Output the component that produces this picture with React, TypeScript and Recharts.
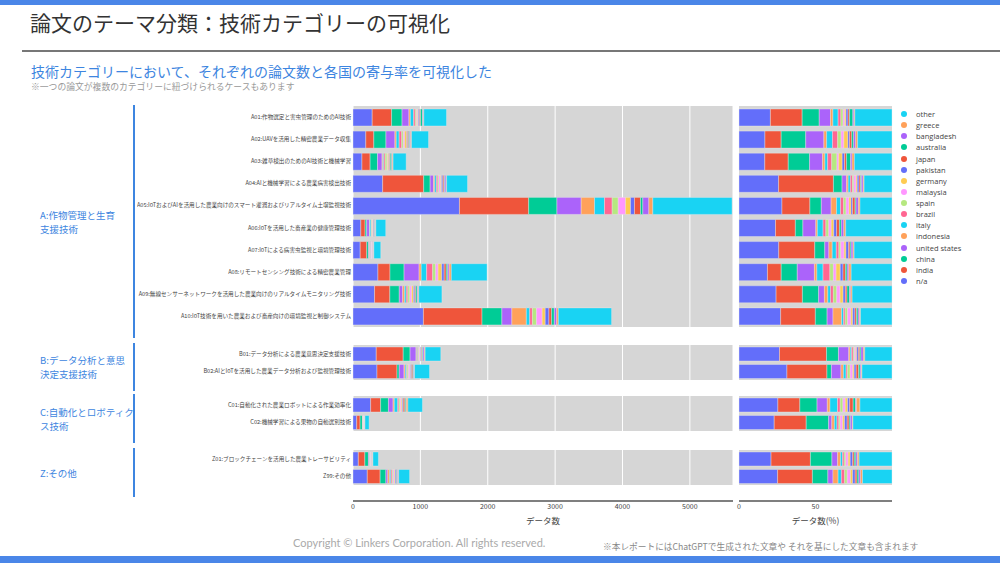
import React from 'react';
import { BarChart, Bar, XAxis, YAxis, CartesianGrid } from 'recharts';

const categories = [
  'A01:作物選定と害虫管理のためのAI技術',
  'A02:UAVを活用した精密農業データ収集',
  'A03:雑草検出のためのAI技術と機械学習',
  'A04:AIと機械学習による農業病害検出技術',
  'A05:IoTおよびAIを活用した農業向けのスマート灌漑およびリアルタイム土壌監視技術',
  'A06:IoTを活用した畜産業の健康管理技術',
  'A07:IoTによる病害虫監視と環境管理技術',
  'A08:リモートセンシング技術による精密農業管理',
  'A09:無線センサーネットワークを活用した農業向けのリアルタイムモニタリング技術',
  'A10:IoT技術を用いた農業および畜産向けの環境監視と制御システム',
  'B01:データ分析による農業意思決定支援技術',
  'B02:AIとIoTを活用した農業データ分析および監視管理技術',
  'C01:自動化された農業ロボットによる作業効率化',
  'C02:機械学習による果物の自動選別技術',
  'Z01:ブロックチェーンを活用した農業トレーサビリティ',
  'Z99:その他',
];

const groupNames = [
  ['A:作物管理と生育', '支援技術'],
  ['B:データ分析と意思', '決定支援技術'],
  ['C:自動化とロボティク', 'ス技術'],
  ['Z:その他'],
];
const groupSizes = [10, 2, 2, 2];

// stack order, left to right
const countries = [
  'n/a', 'india', 'china', 'united states', 'indonesia', 'italy', 'brazil', 'spain',
  'malaysia', 'germany', 'pakistan', 'japan', 'australia', 'bangladesh', 'greece', 'other',
];
const palette = [
  '#636EFA', '#EF553B', '#00CC96', '#AB63FA', '#FFA15A', '#19D3F3', '#FF6692', '#B6E880',
  '#FF97FF', '#FECB52', '#636EFA', '#EF553B', '#00CC96', '#AB63FA', '#FFA15A', '#19D3F3',
];

// paper counts per country, in category order
const naCounts = [285, 190, 133, 440, 1580, 116, 107, 370, 320, 1045, 345, 356, 262, 55, 79, 212];
const indiaCounts = [288, 119, 121, 609, 1027, 63, 97, 179, 227, 870, 400, 297, 148, 50, 97, 191];
const chinaCounts = [155, 180, 110, 96, 420, 24, 27, 209, 140, 295, 102, 33, 116, 35, 53, 85];
const usCounts = [102, 133, 67, 50, 360, 41, 11, 223, 50, 148, 88, 71, 69, 5, 14, 28];
const indonesiaCounts = [22, 20, 12, 18, 198, 5, 9, 32, 29, 215, 12, 18, 18, 4, 7, 28];
const italyCounts = [47, 43, 14, 25, 148, 18, 11, 80, 24, 50, 12, 20, 51, 4, 5, 18];
const brazilCounts = [25, 38, 21, 22, 114, 9, 7, 89, 24, 40, 14, 10, 18, 3, 4, 18];
const spainCounts = [20, 25, 27, 16, 89, 9, 5, 45, 29, 60, 10, 20, 18, 2, 4, 14];
const malaysiaCounts = [15, 20, 9, 24, 109, 8, 9, 36, 29, 85, 12, 20, 16, 4, 6, 18];
const germanyCounts = [12, 30, 18, 14, 74, 8, 5, 54, 26, 45, 8, 10, 16, 3, 5, 12];
const pakistanCounts = [18, 12, 12, 20, 59, 9, 7, 36, 20, 55, 14, 15, 14, 4, 6, 14];
const japanCounts = [14, 16, 10, 16, 89, 9, 4, 31, 14, 40, 12, 18, 23, 3, 4, 10];
const australiaCounts = [30, 14, 21, 10, 35, 6, 3, 22, 22, 40, 10, 12, 16, 2, 4, 10];
const bangladeshCounts = [10, 15, 8, 20, 89, 8, 5, 22, 10, 35, 20, 8, 7, 3, 4, 10];
const greeceCounts = [8, 14, 12, 10, 59, 6, 3, 31, 12, 25, 12, 5, 23, 1, 4, 10];
const otherCounts = [337, 252, 194, 310, 1176, 147, 102, 531, 344, 790, 232, 223, 216, 61, 81, 162];

const countsByCountry = [
  naCounts, indiaCounts, chinaCounts, usCounts, indonesiaCounts, italyCounts, brazilCounts,
  spainCounts, malaysiaCounts, germanyCounts, pakistanCounts, japanCounts, australiaCounts,
  bangladeshCounts, greeceCounts, otherCounts,
];

const countTicks = [0, 1000, 2000, 3000, 4000, 5000];
const shareTicks = [0, 0.5];

const rows = categories.map((category, i) => {
  const row: Record<string, string | number> = { category };
  countries.forEach((c, j) => {
    row[c] = countsByCountry[j][i];
  });
  return row;
});

// layout of the facets on the slide
const facetTop = [106, 345, 396, 450];
const facetHeight = [221, 35, 35, 35];
const facetBar = [17, 14, 14, 14];
const bracketTop = [105, 343, 394, 448];
const bracketBottom = [338, 391, 443, 497];
const AXIS_H = 46;

const BLUE = '#3d85e0';
const GRID_BG = '#d6d6d6';

const series = () =>
  countries.map((c, i) => (
    <Bar
      key={c}
      dataKey={c}
      stackId="s"
      fill={palette[i]}
      stroke="#e8e8e8"
      strokeWidth={0.4}
      isAnimationActive={false}
    />
  ));

const CountFacet = ({ data, height, barSize, last }: any) => (
  <BarChart
    layout="vertical"
    width={596}
    height={height + (last ? AXIS_H : 0)}
    data={data}
    barSize={barSize}
    margin={{ top: 0, right: 0, bottom: 0, left: 0 }}
  >
    <CartesianGrid horizontal={false} stroke="#ffffff" strokeWidth={1} fill={GRID_BG} fillOpacity={1} />
    <XAxis
      type="number"
      domain={[0, 5640]}
      ticks={countTicks}
      interval={0}
      hide={!last}
      height={AXIS_H}
      tickLine={false}
      tickSize={0}
      tickMargin={19}
      tick={{ fontSize: 7, fill: '#444' }}
      axisLine={{ stroke: '#555', strokeWidth: 1.5, transform: 'translate(0,16)' }}
      label={{ value: 'データ数', position: 'insideBottom', offset: 7, fontSize: 8.5, fill: '#444' }}
    />
    <YAxis
      type="category"
      dataKey="category"
      width={216}
      interval={0}
      tickLine={false}
      axisLine={false}
      tickSize={0}
      tickMargin={2}
      tick={{ fontSize: 5.6, fill: '#444' }}
    />
    {series()}
  </BarChart>
);

const ShareFacet = ({ data, height, barSize, last }: any) => (
  <BarChart
    layout="vertical"
    width={162}
    height={height + (last ? AXIS_H : 0)}
    data={data}
    barSize={barSize}
    stackOffset="expand"
    margin={{ top: 0, right: 3, bottom: 0, left: 6 }}
  >
    <CartesianGrid horizontal={false} vertical={false} fill={GRID_BG} fillOpacity={1} />
    <XAxis
      type="number"
      domain={[-0.01, 1.01]}
      ticks={shareTicks}
      interval={0}
      tickFormatter={(v: number) => String(Math.round(v * 100))}
      hide={!last}
      height={AXIS_H}
      tickLine={false}
      tickSize={0}
      tickMargin={19}
      tick={{ fontSize: 7, fill: '#444' }}
      axisLine={{ stroke: '#555', strokeWidth: 1.5, transform: 'translate(0,16)' }}
      label={{ value: 'データ数(%)', position: 'insideBottom', offset: 7, fontSize: 8.5, fill: '#444' }}
    />
    <YAxis type="category" dataKey="category" hide width={0} />
    {series()}
  </BarChart>
);

const abs = (left: number, top: number, extra: React.CSSProperties = {}): React.CSSProperties => ({
  position: 'absolute',
  left,
  top,
  ...extra,
});

export default function App() {
  let start = 0;
  const facets = groupSizes.map((n) => {
    const data = rows.slice(start, start + n);
    start += n;
    return data;
  });

  return (
    <div
      style={{
        position: 'absolute',
        left: 0,
        top: 0,
        width: 1000,
        height: 563,
        background: '#fff',
        overflow: 'hidden',
        fontFamily: "'Noto Sans CJK JP', 'Noto Sans', sans-serif",
      }}
    >
      <div style={abs(0, 0, { width: 1000, height: 5, background: '#4a86e8' })} />
      <div style={abs(0, 556, { width: 1000, height: 7, background: '#4a86e8' })} />

      <div style={abs(30, 8, { fontSize: 21, lineHeight: '28px', color: '#333', whiteSpace: 'nowrap' })}>
        論文のテーマ分類：技術カテゴリーの可視化
      </div>
      <div style={abs(22, 50, { width: 978, height: 2, background: '#777' })} />
      <div style={abs(31, 62, { fontSize: 14, lineHeight: '18px', color: BLUE, whiteSpace: 'nowrap' })}>
        技術カテゴリーにおいて、それぞれの論文数と各国の寄与率を可視化した
      </div>
      <div style={abs(31, 81, { fontSize: 8.8, lineHeight: '11px', color: '#999', whiteSpace: 'nowrap' })}>
        ※一つの論文が複数のカテゴリーに紐づけられるケースもあります
      </div>

      {groupNames.map((lines, g) => (
        <React.Fragment key={g}>
          <div
            style={abs(40, bracketTop[g], {
              width: 92,
              height: bracketBottom[g] - bracketTop[g],
              display: 'flex',
              flexDirection: 'column',
              justifyContent: 'center',
              fontSize: 9.5,
              color: BLUE,
            })}
          >
            {lines.map((t) => (
              <div key={t} style={{ whiteSpace: 'nowrap', height: 14, lineHeight: '14px' }}>{t}</div>
            ))}
          </div>
          <div
            style={abs(133, bracketTop[g], {
              width: 2,
              height: bracketBottom[g] - bracketTop[g],
              background: BLUE,
            })}
          />
        </React.Fragment>
      ))}

      {facets.map((data, g) => (
        <React.Fragment key={`f${g}`}>
          <div style={abs(137, facetTop[g])}>
            <CountFacet data={data} height={facetHeight[g]} barSize={facetBar[g]} last={g === facets.length - 1} />
          </div>
          <div style={abs(733, facetTop[g])}>
            <ShareFacet data={data} height={facetHeight[g]} barSize={facetBar[g]} last={g === facets.length - 1} />
          </div>
        </React.Fragment>
      ))}

      <div style={abs(898, 108.5)}>
        {countries
          .map((c, i) => ({ c, color: palette[i] }))
          .reverse()
          .map(({ c, color }) => (
            <div
              key={c}
              style={{
                height: 11.13,
                display: 'flex',
                alignItems: 'center',
                fontFamily: "'Open Sans', sans-serif",
                fontSize: 7.5,
                color: '#444',
              }}
            >
              <span
                style={{
                  display: 'inline-block',
                  width: 6,
                  height: 6,
                  borderRadius: 3,
                  background: color,
                  marginLeft: 3,
                  marginRight: 9,
                }}
              />
              {c}
            </div>
          ))}
      </div>

      <div style={abs(293, 535, { fontFamily: "'Lato', sans-serif", fontSize: 11, lineHeight: '16px', color: '#aaa', whiteSpace: 'nowrap' })}>
        Copyright © Linkers Corporation. All rights reserved.
      </div>
      <div style={abs(603, 541, { fontSize: 8.7, lineHeight: '12px', color: '#888', whiteSpace: 'nowrap' })}>
        ※本レポートにはChatGPTで生成された文章や それを基にした文章も含まれます
      </div>
    </div>
  );
}
